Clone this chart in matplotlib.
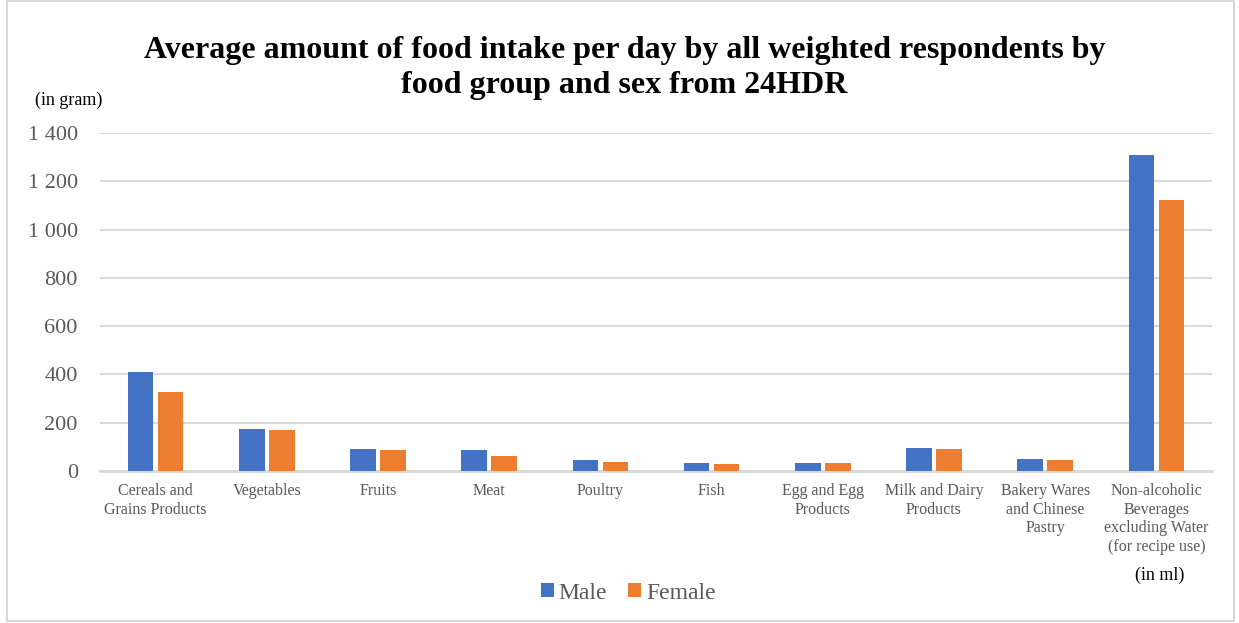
import numpy as np
import matplotlib.pyplot as plt
from matplotlib.patches import Rectangle

# Food groups and average intake per day (gram; beverages in ml)
categories = ['Cereals and\nGrains Products', 'Vegetables', 'Fruits', 'Meat', 'Poultry',
              'Fish', 'Egg and Egg\nProducts', 'Milk and Dairy\nProducts',
              'Bakery Wares\nand Chinese\nPastry',
              'Non-alcoholic\nBeverages\nexcluding Water\n(for recipe use)']
male = [408, 174, 93, 85, 46, 32, 35, 94, 49, 1310]
female = [328, 171, 89, 63, 38, 29, 32, 90, 44, 1124]
y_ticks = [0, 200, 400, 600, 800, 1000, 1200, 1400]

plt.rcParams['font.family'] = ['Liberation Serif', 'DejaVu Serif']
text_col = '#595959'
grid_col = '#d9d9d9'

fig = plt.figure(figsize=(12.39, 6.23), dpi=100)
fig.patches.append(Rectangle((0.006, 0.004), 0.99, 0.994, transform=fig.transFigure,
                             fill=False, edgecolor='#d0d0d0', linewidth=1.2))

ax = fig.add_axes([0.0807, 0.244, 0.8975, 0.5425])
x = np.arange(len(categories))
w = 0.23
ax.bar(x - 0.135, male, w, color='#4472C4', label='Male', zorder=3)
ax.bar(x + 0.135, female, w, color='#ED7D31', label='Female', zorder=3)

ax.set_xlim(-0.5, len(categories) - 0.5)
ax.set_ylim(0, 1400)
ax.set_yticks(y_ticks)
ax.set_yticklabels(['{:,}'.format(v).replace(',', ' ') for v in y_ticks],
                   fontsize=16, color=text_col)
ax.tick_params(axis='y', length=0, pad=16)
ax.set_xticks(x)
ax.set_xticklabels(categories, fontsize=11.5, color=text_col, linespacing=1.2)
ax.tick_params(axis='x', length=0, pad=9)
ax.grid(axis='y', color=grid_col, linewidth=1.5, zorder=0)
for s in ['top', 'right', 'left']:
    ax.spines[s].set_visible(False)
ax.spines['bottom'].set_color(grid_col)
ax.spines['bottom'].set_linewidth(2)

fig.text(0.504, 0.891, 'Average amount of food intake per day by all weighted respondents by\n'
         'food group and sex from 24HDR', ha='center', va='center', fontsize=23,
         fontweight='bold', linespacing=1.29)
fig.text(0.0557, 0.8395, '(in gram)', ha='center', va='center', fontsize=13)
fig.text(0.936, 0.077, '(in ml)', ha='center', va='center', fontsize=13)

fig.legend(loc='center', bbox_to_anchor=(0.507, 0.048), ncol=2, frameon=False,
           fontsize=17, labelcolor=text_col, handlelength=0.55, handleheight=0.55,
           handletextpad=0.2, columnspacing=0.9)

fig.savefig('out.png', dpi=100)
